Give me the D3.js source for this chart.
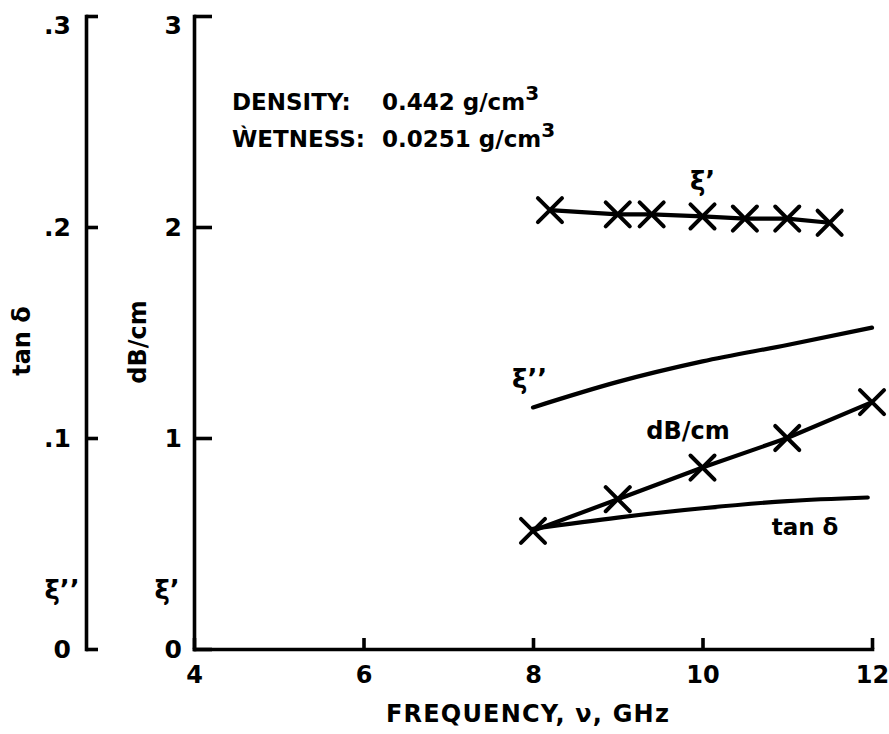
<!DOCTYPE html>
<html><head><meta charset="utf-8">
<script src="https://cdn.jsdelivr.net/npm/d3@7"></script>
<style>
html,body{margin:0;padding:0;background:#fff;}
svg text{font-family:"DejaVu Sans",sans-serif;font-weight:bold;fill:#000;}
</style></head>
<body><svg id="c" width="889" height="734"></svg>
<script>
// ---- data ----
const freqXiPrime = [8.2, 9.0, 9.4, 10.0, 10.5, 11.0, 11.5];
const xiPrime     = [2.08, 2.06, 2.06, 2.05, 2.04, 2.04, 2.02];
const freqCurve   = [8, 9, 10, 11, 12];
const xiDouble    = [0.1145, 0.1266, 0.1363, 0.1441, 0.1523];
const dbPerCm     = [0.56, 0.71, 0.86, 1.00, 1.17];
const freqTan     = [8, 9, 10, 11, 11.95];
const tanDelta    = [0.057, 0.0623, 0.0667, 0.0701, 0.0718];
const xTicks      = [4, 6, 8, 10, 12];
const leftTicks   = [0, 0.1, 0.2, 0.3];
const rightTicks  = [0, 1, 2, 3];

const svg = d3.select("#c");
const x  = d3.scaleLinear().domain([4, 12]).range([194, 872]);
const yR = d3.scaleLinear().domain([0, 3]).range([649, 16]);
const yL = d3.scaleLinear().domain([0, 0.3]).range([649, 16]);
const SW = 3.6;

function styleAxis(g, fs){
  g.selectAll("path.domain").attr("stroke","#000").attr("stroke-width",SW).attr("stroke-linecap","square");
  g.selectAll(".tick line").attr("stroke","#000").attr("stroke-width",SW);
  g.selectAll(".tick text").attr("font-size",fs).attr("font-family","DejaVu Sans").attr("font-weight","bold");
}

// left axis (tan δ / ξ'')
const gL = svg.append("g").attr("transform","translate(86,0)")
  .call(d3.axisLeft(yL).tickValues(leftTicks).tickSizeInner(-12).tickSizeOuter(0).tickPadding(15)
    .tickFormat(d => d === 0 ? "0" : d3.format(".1f")(d).replace(/^0/, "")));
styleAxis(gL, 25);
gL.selectAll(".tick text").filter(d => d === 0.3).attr("dy","0.7em");

// right axis (dB/cm / ξ')
const gR = svg.append("g").attr("transform","translate(194,0)")
  .call(d3.axisLeft(yR).tickValues(rightTicks).tickSizeInner(-18).tickSizeOuter(0).tickPadding(12)
    .tickFormat(d3.format("d")));
styleAxis(gR, 25);
gR.selectAll(".tick text").filter(d => d === 3).attr("dy","0.7em");

// x axis
const gX = svg.append("g").attr("transform","translate(0,649)")
  .call(d3.axisBottom(x).tickValues(xTicks).tickSizeInner(-11).tickSizeOuter(0).tickPadding(17)
    .tickFormat(d3.format("d")));
styleAxis(gX, 24);

// axis titles
svg.append("text").attr("transform","translate(30,341) rotate(-90)").attr("text-anchor","middle")
  .attr("font-size",24).text("tan δ");
svg.append("text").attr("transform","translate(146,342) rotate(-90)").attr("text-anchor","middle")
  .attr("font-size",24).text("dB/cm");
svg.append("text").attr("x",62).attr("y",599).attr("text-anchor","middle").attr("font-size",26).text("ξ’’");
svg.append("text").attr("x",167).attr("y",599).attr("text-anchor","middle").attr("font-size",26).text("ξ’");
svg.append("text").attr("x",528).attr("y",722).attr("text-anchor","middle").attr("font-size",24)
  .attr("letter-spacing","1.2px").text("FREQUENCY, ν, GHz");

// annotation
const ann = svg.append("g").attr("font-size",23);
const t1 = ann.append("text").attr("y",110);
t1.append("tspan").attr("x",232).text("DENSITY:");
t1.append("tspan").attr("x",382).text("0.442 g/cm");
t1.append("tspan").attr("font-size",20).attr("dy",-10).text("3");
const t2 = ann.append("text").attr("y",147);
t2.append("tspan").attr("x",232).text("ẀETNESS:");
t2.append("tspan").attr("x",382).text("0.0251 g/cm");
t2.append("tspan").attr("font-size",20).attr("dy",-10).text("3");

// series
const lineStyle = sel => sel.attr("fill","none").attr("stroke","#000").attr("stroke-width",4.2)
  .attr("stroke-linecap","round").attr("stroke-linejoin","round");

const xiPData = freqXiPrime.map((f,i)=>({f, v:xiPrime[i]}));
svg.append("path").datum(xiPData).call(lineStyle)
  .attr("d", d3.line().x(d=>x(d.f)).y(d=>yR(d.v)));

const xiDData = freqCurve.map((f,i)=>({f, v:xiDouble[i]}));
svg.append("path").datum(xiDData).call(lineStyle)
  .attr("d", d3.line().curve(d3.curveMonotoneX).x(d=>x(d.f)).y(d=>yL(d.v)));

const dbData = freqCurve.map((f,i)=>({f, v:dbPerCm[i]}));
svg.append("path").datum(dbData).call(lineStyle)
  .attr("d", d3.line().x(d=>x(d.f)).y(d=>yR(d.v)));

const tanData = freqTan.map((f,i)=>({f, v:tanDelta[i]}));
svg.append("path").datum(tanData).call(lineStyle)
  .attr("d", d3.line().curve(d3.curveMonotoneX).x(d=>x(d.f)).y(d=>yL(d.v)));

// X markers
const sym = d3.symbol().type(d3.symbolX).size(380);
function markers(data, y){
  svg.append("g").selectAll("path").data(data).join("path")
    .attr("transform", d => `translate(${x(d.f)},${y(d.v)})`)
    .attr("d", sym).attr("fill","none").attr("stroke","#000").attr("stroke-width",4)
    .attr("stroke-linecap","round");
}
markers(xiPData, yR);
markers(dbData, yR);

// series labels
svg.append("text").attr("x",x(10)).attr("y",yR(2.22)+9).attr("text-anchor","middle").attr("font-size",26).text("ξ’");
svg.append("text").attr("x",x(7.96)).attr("y",yL(0.128)+9).attr("text-anchor","middle").attr("font-size",26).text("ξ’’");
svg.append("text").attr("x",x(9.83)).attr("y",yR(1.037)+9).attr("text-anchor","middle").attr("font-size",24).text("dB/cm");
svg.append("text").attr("x",x(11.21)).attr("y",yL(0.0576)+8).attr("text-anchor","middle").attr("font-size",23).text("tan δ");
</script></body></html>
